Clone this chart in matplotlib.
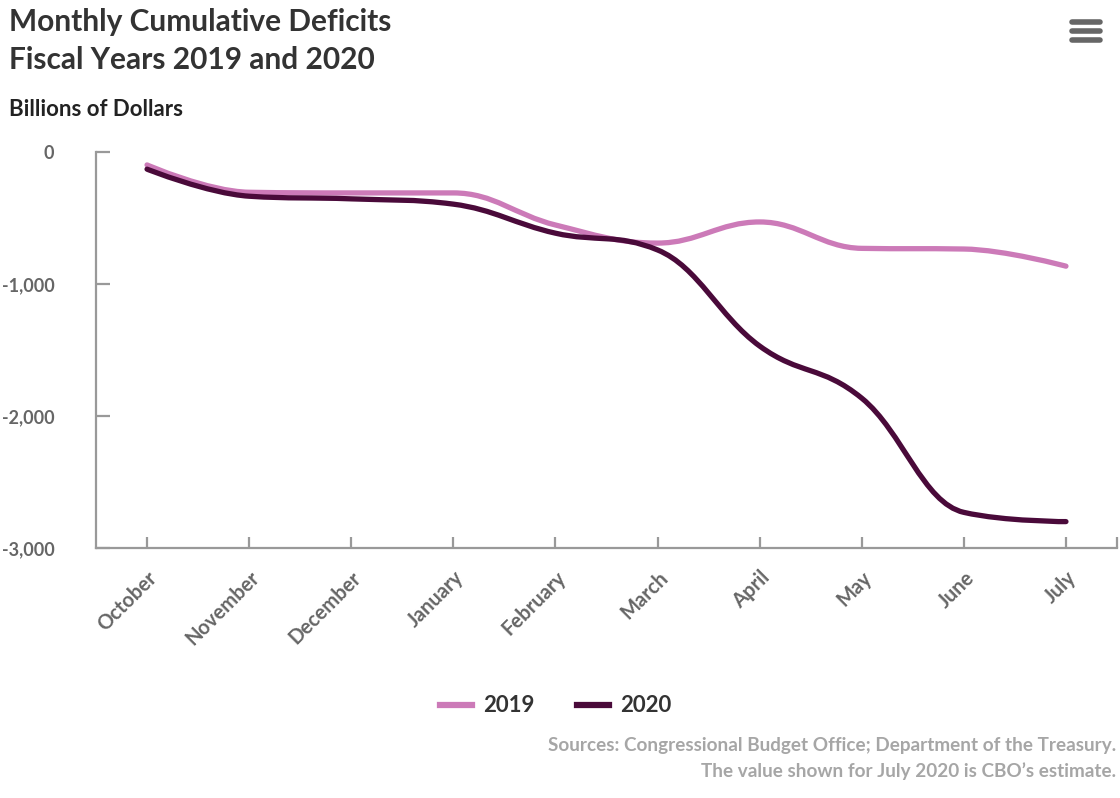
import matplotlib
matplotlib.use("Agg")
import matplotlib.pyplot as plt
from matplotlib.path import Path
from matplotlib.patches import PathPatch
from matplotlib.lines import Line2D

months = ["October", "November", "December", "January", "February",
          "March", "April", "May", "June", "July"]
deficit_2019 = [-98, -305, -310, -310, -553, -690, -530, -730, -735, -865]
deficit_2020 = [-130, -335, -355, -395, -615, -742, -1470, -1865, -2730, -2800]
y_ticks = [0, -1000, -2000, -3000]
y_tick_labels = ["0", "-1,000", "-2,000", "-3,000"]

C2019 = "#cc7ab8"
C2020 = "#4a0a3a"
FONT = ["Lato", "DejaVu Sans"]
plt.rcParams['font.family'] = FONT


def spline_path(xs, ys, smoothing=1.5):
    """Highcharts-style spline through the data points as cubic Beziers."""
    n = len(xs)
    denom = smoothing + 1
    left = [None] * n
    right = [None] * n
    for i in range(n):
        x, y = xs[i], ys[i]
        if i == 0 or i == n - 1:
            left[i] = (x, y)
            right[i] = (x, y)
            continue
        lx, ly = xs[i - 1], ys[i - 1]
        nx, ny = xs[i + 1], ys[i + 1]
        lcx = (smoothing * x + lx) / denom
        lcy = (smoothing * y + ly) / denom
        rcx = (smoothing * x + nx) / denom
        rcy = (smoothing * y + ny) / denom
        if rcx != lcx:
            corr = ((rcy - lcy) * (rcx - x)) / (rcx - lcx) + y - rcy
            lcy += corr
            rcy += corr
        if lcy > ly and lcy > y:
            lcy = max(ly, y)
            rcy = 2 * y - lcy
        elif lcy < ly and lcy < y:
            lcy = min(ly, y)
            rcy = 2 * y - lcy
        if rcy > ny and rcy > y:
            rcy = max(ny, y)
            lcy = 2 * y - rcy
        elif rcy < ny and rcy < y:
            rcy = min(ny, y)
            lcy = 2 * y - rcy
        left[i] = (lcx, lcy)
        right[i] = (rcx, rcy)
    verts = [(xs[0], ys[0])]
    codes = [Path.MOVETO]
    for i in range(1, n):
        verts += [right[i - 1], left[i], (xs[i], ys[i])]
        codes += [Path.CURVE4] * 3
    return Path(verts, codes)


fig = plt.figure(figsize=(11.2, 7.98), dpi=100)
ax = fig.add_axes([96 / 1120, 1 - 548 / 798, (1117 - 96) / 1120, (548 - 152) / 798])

xs = list(range(len(months)))
for vals, col in [(deficit_2019, C2019), (deficit_2020, C2020)]:
    p = spline_path(xs, vals)
    ax.add_patch(PathPatch(p, facecolor="none", edgecolor=col, lw=3.8,
                           capstyle="round", joinstyle="round", zorder=3))

ax.set_xlim(-0.5, len(months) - 0.5)
ax.set_ylim(-3000, 0)

for s in ["top", "right"]:
    ax.spines[s].set_visible(False)
for s in ["left", "bottom"]:
    ax.spines[s].set_color("#999999")
    ax.spines[s].set_linewidth(1.6)

ax.set_yticks(y_ticks)
ax.set_yticklabels(y_tick_labels)
ax.tick_params(axis="y", direction="in", length=10, width=1.6, color="#999999",
               labelsize=13, labelcolor="#666666", pad=30)
ax.set_xticks(xs)
ax.set_xticklabels(months, rotation=45, ha="right", va="top",
                   rotation_mode="anchor")
ax.tick_params(axis="x", direction="in", length=8, width=1.6, color="#999999",
               labelsize=14.5, labelcolor="#666666", pad=14)
ax.set_xticks([len(months) - 0.5], minor=True)
ax.tick_params(axis="x", which="minor", direction="in", length=8, width=1.6,
               color="#999999")
for lbl in ax.get_yticklabels():
    lbl.set_fontweight("bold")
for lbl in ax.get_xticklabels():
    lbl.set_fontweight("bold")

# Title and subtitle
fig.text(9 / 1120, 1 - 22 / 798, "Monthly Cumulative Deficits", fontsize=21.5,
         fontweight="bold", color="#333333", va="center", ha="left")
fig.text(9 / 1120, 1 - 60 / 798, "Fiscal Years 2019 and 2020", fontsize=21.5,
         fontweight="bold", color="#333333", va="center", ha="left")
fig.text(9 / 1120, 1 - 110 / 798, "Billions of Dollars", fontsize=16,
         fontweight="bold", color="#222222", va="center", ha="left")

# Legend
handles = [Line2D([], [], color=C2019, lw=4.5), Line2D([], [], color=C2020, lw=4.5)]
leg = fig.legend(handles, ["2019", "2020"], loc="center", ncol=2,
                 bbox_to_anchor=(556 / 1120, 1 - 706 / 798), frameon=False,
                 handlelength=1.45, handletextpad=0.5, columnspacing=1.9,
                 prop={"size": 16, "weight": "bold", "family": FONT})
for t in leg.get_texts():
    t.set_color("#333333")

# Sources
fig.text(1116 / 1120, 1 - 746 / 798,
         "Sources: Congressional Budget Office; Department of the Treasury.",
         fontsize=13.6, color="#a6a6a6", ha="right", va="center", fontweight="bold")
fig.text(1116 / 1120, 1 - 771 / 798,
         "The value shown for July 2020 is CBO\u2019s estimate.",
         fontsize=13.6, color="#a6a6a6", ha="right", va="center", fontweight="bold")

# Menu icon
for yy in [22, 31, 40]:
    fig.add_artist(Line2D([1072 / 1120, 1100 / 1120], [1 - yy / 798] * 2,
                          color="#666666", lw=4, solid_capstyle="round"))

fig.savefig("out.png", dpi=100)
